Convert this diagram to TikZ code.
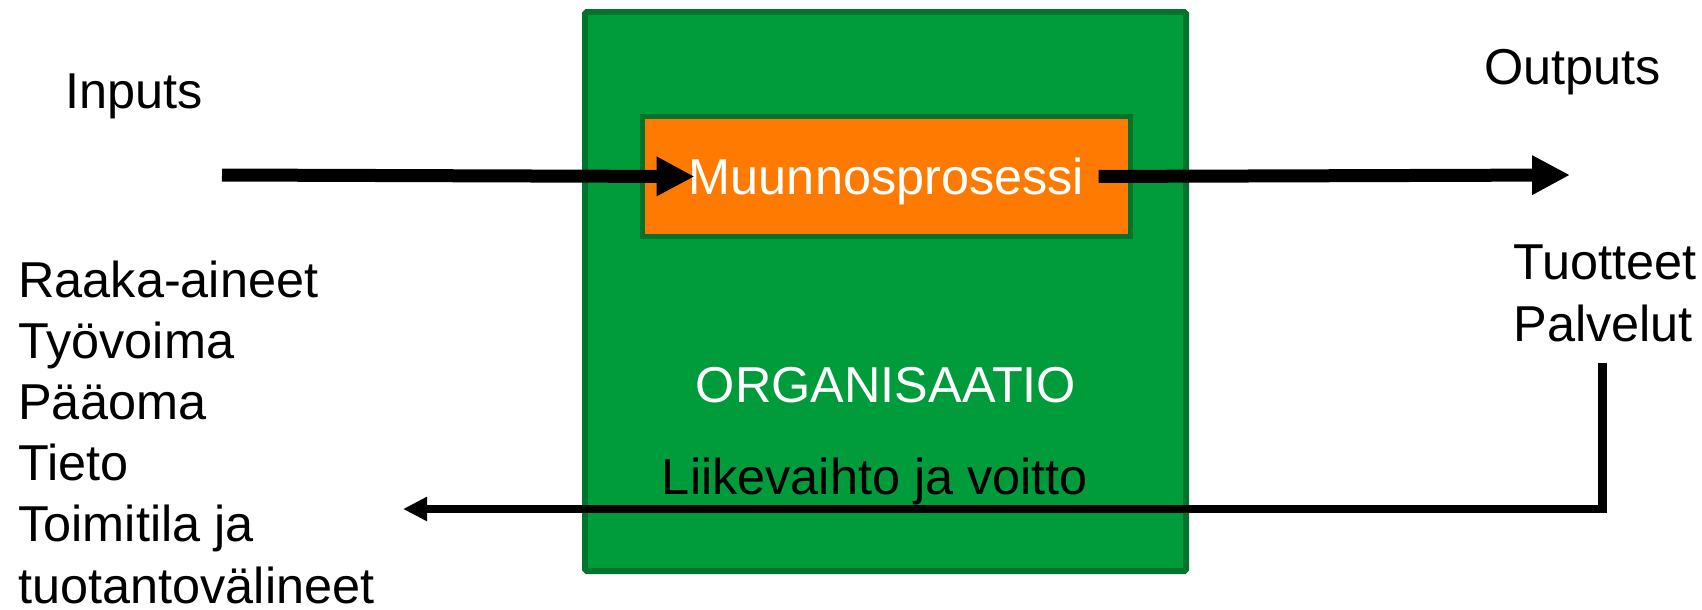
\documentclass[tikz,border=0pt]{standalone}
\usepackage{fontspec}
\setmainfont{Liberation Sans}
\usetikzlibrary{arrows.meta}
\definecolor{orggreen}{RGB}{0,155,58}
\definecolor{orgedge}{RGB}{0,115,45}
\definecolor{procorange}{RGB}{255,122,0}

\begin{document}
\begin{tikzpicture}[x=0.02cm,y=-0.02cm,
  every node/.style={font=\fontsize{28.7}{34.8}\selectfont,inner sep=0pt},
  flow/.style={line width=7.4pt,-{Triangle[length=21.6pt,width=21pt]}},
  back/.style={line width=5.1pt,-{Triangle[length=13.7pt,width=13pt]}}]
  \useasboundingbox (0,0) rectangle (1702,609);

  % organisation and process
  \draw[orgedge,fill=orggreen,line width=3.4pt,rounded corners=1pt] (585,12) rectangle (1186,571);
  \node[draw=orgedge,fill=procorange,line width=2.8pt,minimum width=9.76cm,minimum height=2.4cm] (procbox) at (886.5,176.5) {};
  \node[text=white,text depth=0pt] (proc) at (procbox.center) {Muunnosprosessi};
  \node[anchor=base,text=white] (org) at (886,402) {ORGANISAATIO};
  \node[anchor=base] (revenue) at (875,494) {Liikevaihto ja voitto};

  % inputs and outputs (base = last line)
  \node[anchor=base west] (inputs) at (65,108) {Inputs};
  \node[anchor=base west,align=left] (resources) at (18,603) {Raaka-aineet\\Työvoima\\Pääoma\\Tieto\\Toimitila ja\\tuotantovälineet};
  \node[anchor=base west] (outputs) at (1484,84) {Outputs};
  \node[anchor=base west,align=left] (products) at (1513,341) {Tuotteet\\Palvelut};

  \coordinate (inA) at (222,175);
  \coordinate (outA) at (1570,175);
  \coordinate (fbtop) at (1602,363);
  \coordinate (fbend) at (403,509);

  \draw[flow,shorten >=-3.4pt] (inA) -- (proc.west);
  \draw[flow,shorten <=8pt] (proc.east) -- (outA);
  \draw[back] (fbtop) |- (fbend);
\end{tikzpicture}
\end{document}
